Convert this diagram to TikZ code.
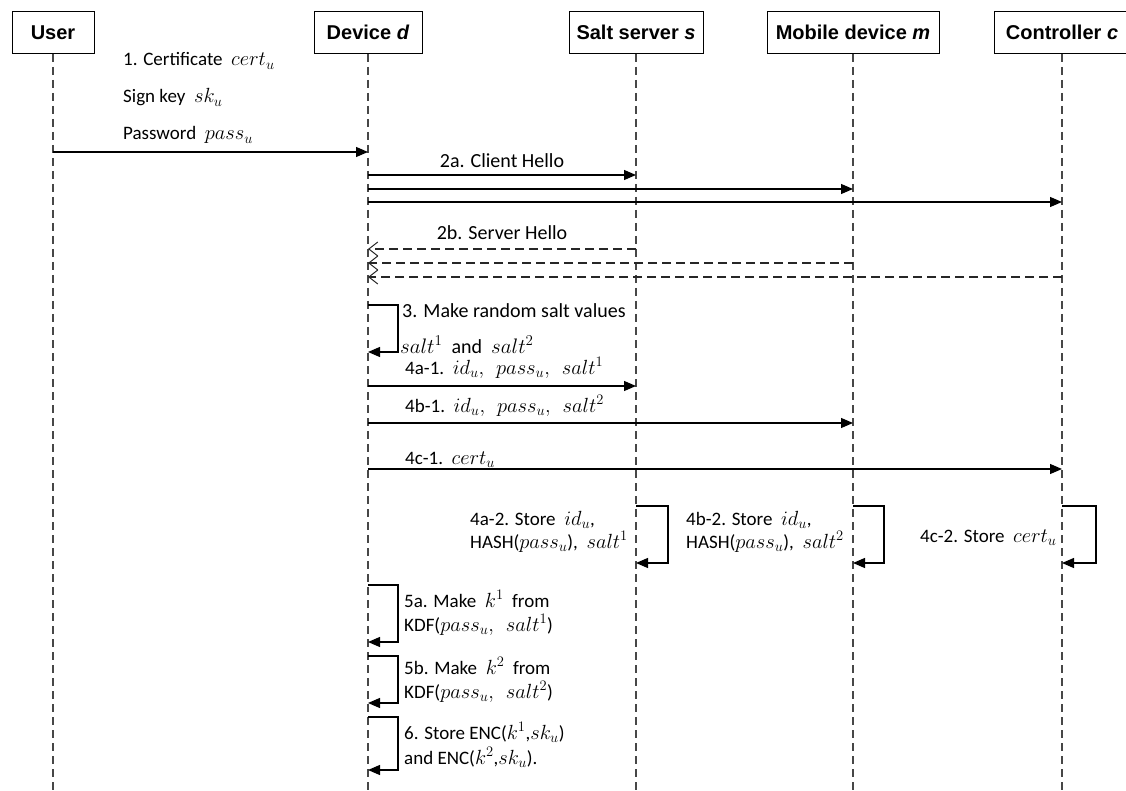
\RequirePackage{fix-cm}
\documentclass[tikz,border=0pt]{standalone}
\usepackage{fontspec}
\setmainfont{Carlito}
\newfontfamily\headfont{Liberation Sans}
\DeclareMathSizes{18}{21}{15}{11}
\DeclareMathSizes{19}{20.5}{14.5}{11}
\DeclareMathSizes{20}{21}{15}{11}
\usetikzlibrary{arrows.meta}
\begin{document}
\begin{tikzpicture}[x=1pt,y=1pt,
  head/.style={draw, line width=1pt, minimum height=42pt, inner sep=0pt,
    font=\headfont\bfseries\fontsize{20}{24}\selectfont},
  life/.style={draw=black!72, line width=1.1pt, dash pattern=on 8pt off 5pt},
  msg/.style={line width=1.2pt, -{Triangle[length=12pt,width=10pt]}},
  ret/.style={draw=black!85, line width=1.2pt, dash pattern=on 9pt off 5pt,
    -{Straight Barb[length=9pt,width=14pt,line width=1pt]}},
  lbl/.style={inner sep=0pt, anchor=base west, font=\fontsize{19}{23}\selectfont},
  mid/.style={inner sep=0pt, font=\fontsize{20}{24}\selectfont},
]
\useasboundingbox (0,0) rectangle (1126,-791);

% participants
\node[head, minimum width=82pt]  (user) at (53,-32.5)   {User};
\node[head, minimum width=108pt] (dev)  at (368,-32.5)  {Device \textit{d}};
\node[head, minimum width=134pt] (salt) at (636,-32.5)  {Salt server \textit{s}};
\node[head, minimum width=172pt] (mob)  at (853,-32.5)  {Mobile device \textit{m}};
\node[head, minimum width=136pt] (ctl)  at (1062,-32.5) {Controller \textit{c}};

% lifelines
\coordinate (bot) at (0,-791);
\foreach \p in {user,dev,salt,mob,ctl}
  \draw[life] (\p.south) -- (\p.south |- bot);

% 1. credentials handed to the device
\coordinate (y1) at (0,-152);
\draw[msg] (user |- y1) -- (dev |- y1);
\begin{scope}[every node/.append style={font=\fontsize{18}{22}\selectfont}]
\node[lbl] at (123,-66)  {1. Certificate\ \ $cert_u$};
\node[lbl] at (123,-103) {Sign key\ \ $sk_u$};
\node[lbl] at (123,-140) {Password\ \ $pass_u$};
\end{scope}

% 2a. client hello to all three parties
\coordinate (y2a) at (0,-175);
\coordinate (y2b) at (0,-189);
\coordinate (y2c) at (0,-202);
\draw[msg] (dev |- y2a) -- node[mid, above=7pt] {2a. Client Hello} (salt |- y2a);
\draw[msg] (dev |- y2b) -- (mob |- y2b);
\draw[msg] (dev |- y2c) -- (ctl |- y2c);

% 2b. server hello replies
\coordinate (r2a) at (0,-249);
\coordinate (r2b) at (0,-263);
\coordinate (r2c) at (0,-277);
\draw[ret] (salt |- r2a) -- node[mid, above=9pt] {2b. Server Hello} (dev |- r2a);
\draw[ret] (mob |- r2b) -- (dev |- r2b);
\draw[ret] (ctl |- r2c) -- (dev |- r2c);

% 3. salt generation on the device
\coordinate (s3a) at (0,-305);
\coordinate (s3b) at (0,-352);
\draw[msg] (dev |- s3a) -- ++(30,0) |- (dev |- s3b);
\node[lbl, font=\fontsize{20}{24}\selectfont] at (402,-317) {3. Make random salt values};
\node[lbl, font=\fontsize{20}{24}\selectfont] at (400,-353) {$salt^1$\ \ and\ \ $salt^2$};

% 4x-1. registration messages
\coordinate (y4a) at (0,-386);
\coordinate (y4b) at (0,-423);
\coordinate (y4c) at (0,-469);
\draw[msg] (dev |- y4a) -- (salt |- y4a);
\node[lbl] at (405,-374) {4a-1.\ \ $id_u,\ \ pass_u,\ \ salt^1$};
\draw[msg] (dev |- y4b) -- (mob |- y4b);
\node[lbl] at (405,-412) {4b-1.\ \ $id_u,\ \ pass_u,\ \ salt^2$};
\draw[msg] (dev |- y4c) -- (ctl |- y4c);
\node[lbl] at (405,-464) {4c-1.\ \ $cert_u$};

% 4x-2. storage on each party
\coordinate (t4) at (0,-506);
\coordinate (b4) at (0,-563);
\draw[msg] (salt |- t4) -- ++(32,0) |- (salt |- b4);
\node[lbl] at (470,-525) {4a-2. Store\ \ $id_u$,};
\node[lbl] at (470,-548) {HASH($pass_u$),\ \ $salt^1$};
\draw[msg] (mob |- t4) -- ++(31,0) |- (mob |- b4);
\node[lbl] at (686,-525) {4b-2. Store\ \ $id_u$,};
\node[lbl] at (686,-548) {HASH($pass_u$),\ \ $salt^2$};
\draw[msg] (ctl |- t4) -- ++(34,0) |- (ctl |- b4);
\node[lbl] at (920,-542) {4c-2. Store\ \ $cert_u$};

% 5a, 5b, 6. key derivation and encrypted storage on the device
\coordinate (t5a) at (0,-585);
\coordinate (b5a) at (0,-642);
\draw[msg] (dev |- t5a) -- ++(30,0) |- (dev |- b5a);
\node[lbl] at (404,-607) {5a. Make\ \ $k^1$\ \ from};
\node[lbl] at (404,-631) {KDF($pass_u,\ \ salt^1$)};

\coordinate (t5b) at (0,-656);
\coordinate (b5b) at (0,-703);
\draw[msg] (dev |- t5b) -- ++(30,0) |- (dev |- b5b);
\node[lbl] at (404,-674) {5b. Make\ \ $k^2$\ \ from};
\node[lbl] at (404,-698) {KDF($pass_u,\ \ salt^2$)};

\coordinate (t6) at (0,-717);
\coordinate (b6) at (0,-770);
\draw[msg] (dev |- t6) -- ++(30,0) |- (dev |- b6);
\node[lbl] at (404,-739) {6. Store ENC($k^1$,$sk_u$)};
\node[lbl] at (404,-764) {and ENC($k^2$,$sk_u$).};
\end{tikzpicture}
\end{document}
